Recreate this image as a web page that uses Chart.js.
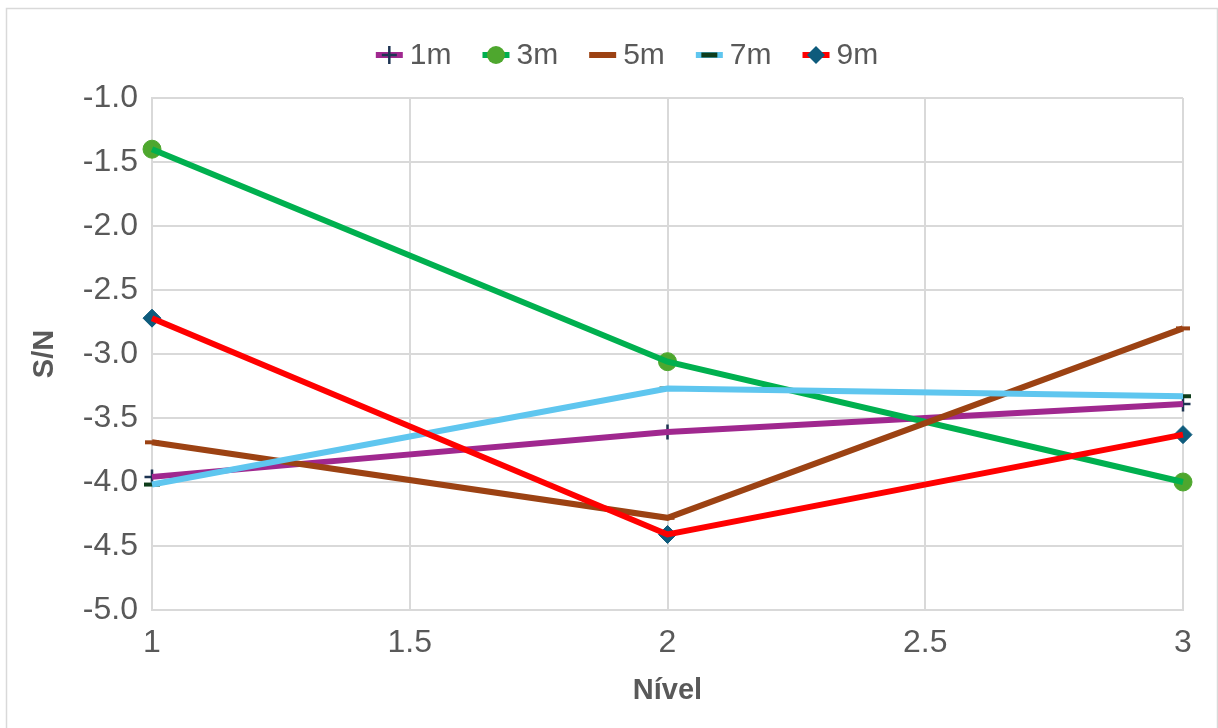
<!DOCTYPE html>
<html>
<head>
<meta charset="utf-8">
<script src="https://cdn.jsdelivr.net/npm/chart.js@4/dist/chart.umd.min.js"></script>
<style>
  html, body { margin: 0; padding: 0; background: #ffffff; }
  #wrap { width: 1218px; height: 728px; }
</style>
</head>
<body>
<div id="wrap"><canvas id="c" width="1218" height="728"></canvas></div>
<script>
// Nível (factor level) on x, S/N ratio on y, one series per distance
const levels = [1, 2, 3];
const seriesNames = ['1m', '3m', '5m', '7m', '9m'];
const sn1m = [-3.96, -3.61, -3.39];
const sn3m = [-1.40, -3.06, -4.00];
const sn5m = [-3.69, -4.28, -2.80];
const sn7m = [-4.02, -3.27, -3.33];
const sn9m = [-2.72, -4.41, -3.63];
const yTicks = [-5.0, -4.5, -4.0, -3.5, -3.0, -2.5, -2.0, -1.5, -1.0];
const xTicks = [1, 1.5, 2, 2.5, 3];

const FONT = "'Liberation Sans', Arial, sans-serif";
const TEXT = '#595959';
const GRID = '#d9d9d9';

const styles = [
  { line: '#a0288f', marker: 'cross',   mColor: '#1d3452', r: 7.5, bw: 2.5 },
  { line: '#00b04f', marker: 'circle',  mColor: '#4ea72e', r: 9,   bw: 1 },
  { line: '#9c4213', marker: 'line',    mColor: '#9c4213', r: 7,   bw: 4 },
  { line: '#5fc6ef', marker: 'line',    mColor: '#0e3d1b', r: 8,   bw: 4 },
  { line: '#ff0000', marker: 'rectRot', mColor: '#0e5b7c', r: 9,   bw: 1 }
];
const values = [sn1m, sn3m, sn5m, sn7m, sn9m];
const n = seriesNames.length;

// Each series: a marker layer drawn first, then its line on top of it;
// earlier series sit underneath later ones.
const datasets = [];
seriesNames.forEach((name, i) => {
  const pts = levels.map((x, j) => ({ x: x, y: values[i][j] }));
  const st = styles[i];
  datasets.push({
    label: name + ' markers',
    data: pts,
    showLine: false,
    pointStyle: st.marker,
    pointRadius: st.r,
    pointBorderColor: st.mColor,
    pointBackgroundColor: st.mColor,
    pointBorderWidth: st.bw,
    clip: false,
    order: 2 * (n - 1 - i) + 1
  });
  datasets.push({
    label: name,
    data: pts,
    borderColor: st.line,
    borderWidth: 6,
    pointRadius: 0,
    tension: 0,
    clip: false,
    order: 2 * (n - 1 - i)
  });
});

function drawMarker(ctx, st, x, y) {
  ctx.save();
  ctx.fillStyle = st.mColor;
  ctx.strokeStyle = st.mColor;
  ctx.lineWidth = st.bw;
  const r = st.r;
  ctx.beginPath();
  if (st.marker === 'circle') {
    ctx.arc(x, y, r, 0, Math.PI * 2);
    ctx.fill();
  } else if (st.marker === 'rectRot') {
    ctx.moveTo(x, y - r); ctx.lineTo(x + r, y); ctx.lineTo(x, y + r); ctx.lineTo(x - r, y);
    ctx.closePath(); ctx.fill();
  } else if (st.marker === 'cross') {
    ctx.moveTo(x - r, y); ctx.lineTo(x + r, y);
    ctx.moveTo(x, y - r - 1.5); ctx.lineTo(x, y + r + 1.5);
    ctx.stroke();
  } else if (st.marker === 'line') {
    ctx.lineWidth = 5;
    ctx.moveTo(x - r, y); ctx.lineTo(x + r, y);
    ctx.stroke();
  }
  ctx.restore();
}

// Legend row (line swatch + marker + label) and the outer frame
const decorPlugin = {
  id: 'decor',
  afterDraw(chart) {
    const ctx = chart.ctx;
    ctx.save();
    ctx.strokeStyle = GRID;
    ctx.lineWidth = 1.5;
    ctx.strokeRect(6.5, 8.5, 1211, 740);

    ctx.font = '30px ' + FONT;
    ctx.textBaseline = 'middle';
    const swatch = 27, gapText = 7, gapItem = 31;
    const widths = seriesNames.map(s => swatch + gapText + ctx.measureText(s).width);
    const total = widths.reduce((a, b) => a + b, 0) + gapItem * (n - 1);
    let x = 627 - total / 2;
    const y = 55;
    seriesNames.forEach((s, i) => {
      const st = styles[i];
      ctx.strokeStyle = st.line;
      ctx.lineWidth = 6;
      ctx.beginPath();
      ctx.moveTo(x, y); ctx.lineTo(x + swatch, y);
      ctx.stroke();
      if (i !== 2) drawMarker(ctx, st, x + swatch / 2, y);
      ctx.fillStyle = TEXT;
      ctx.fillText(s, x + swatch + gapText, y + 1);
      x += widths[i] + gapItem;
    });
    ctx.restore();
  }
};

new Chart(document.getElementById('c'), {
  type: 'line',
  data: { datasets: datasets },
  plugins: [decorPlugin],
  options: {
    responsive: false,
    animation: false,
    devicePixelRatio: 1,
    layout: { padding: { top: 98, right: 35, bottom: 0, left: 0 } },
    plugins: { legend: { display: false }, tooltip: { enabled: false } },
    scales: {
      x: {
        type: 'linear',
        min: 1, max: 3,
        afterBuildTicks(scale) { scale.ticks = xTicks.map(v => ({ value: v })); },
        afterFit(scale) { scale.height = 118; },
        grid: { color: GRID, lineWidth: 2, drawTicks: false },
        border: { color: GRID, width: 2 },
        ticks: {
          color: TEXT, padding: 14,
          font: { family: FONT, size: 32 },
          callback: v => String(v)
        },
        title: {
          display: true, text: 'Nível', color: TEXT,
          font: { family: FONT, size: 29, weight: 'bold' },
          padding: { top: 20, bottom: 20 }
        }
      },
      y: {
        min: -5, max: -1,
        afterBuildTicks(scale) { scale.ticks = yTicks.map(v => ({ value: v })); },
        afterFit(scale) { scale.width = 152; },
        grid: { color: GRID, lineWidth: 2, drawTicks: false },
        border: { color: GRID, width: 2 },
        ticks: {
          color: TEXT, padding: 14,
          font: { family: FONT, size: 32 },
          callback: v => Number(v).toFixed(1)
        },
        title: {
          display: true, text: 'S/N', color: TEXT,
          font: { family: FONT, size: 29, weight: 'bold' },
          padding: { top: 28, bottom: 28 }
        }
      }
    }
  }
});
</script>
</body>
</html>
